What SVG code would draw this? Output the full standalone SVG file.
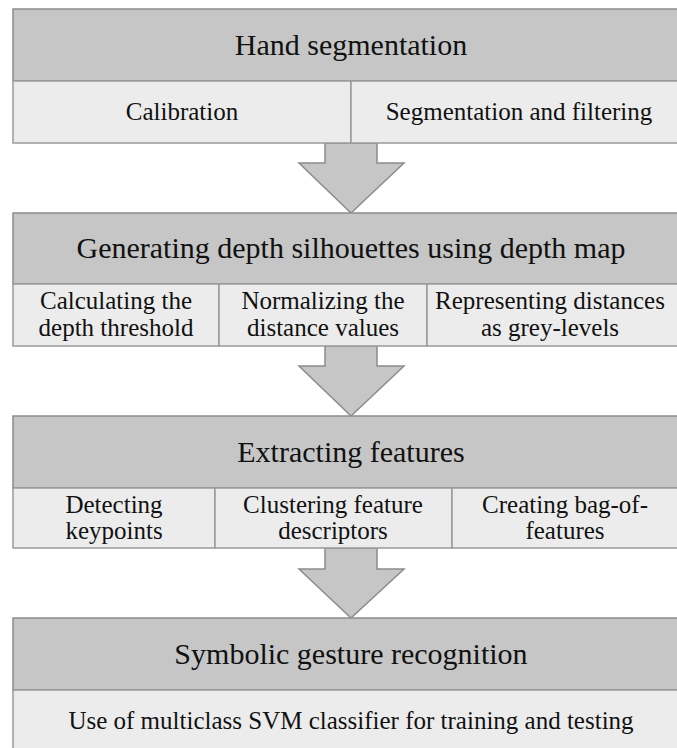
<svg xmlns="http://www.w3.org/2000/svg" width="677" height="748" viewBox="0 0 677 748">
  <defs>
    <style>
      .head { fill: #c6c6c6; stroke: #8c8c8c; stroke-width: 1.5; }
      .sub { fill: #ececec; stroke: #9a9a9a; stroke-width: 1.5; }
      .arrow { fill: #c6c6c6; stroke: #8c8c8c; stroke-width: 1.5; stroke-linejoin: miter; }
    </style>
  </defs>
  <rect width="677" height="748" fill="#ffffff"/>

  <!-- connectors: block arrows between stages -->
  <g id="connectors">
    <polygon class="arrow" points="325,143 377,143 377,163 404,163 351,213 299,163 325,163"/>
    <polygon class="arrow" points="325,346 377,346 377,366 404,366 351,416 299,366 325,366"/>
    <polygon class="arrow" points="325,548 377,548 377,569 404,569 351,618 299,569 325,569"/>
  </g>

  <!-- stage 1 -->
  <g id="hand-segmentation">
    <rect class="head" x="13" y="9" width="680" height="72"/>
    <rect class="sub" x="13" y="81" width="338" height="62"/>
    <rect class="sub" x="351" y="81" width="342" height="62"/>
    <text style="font-family:'Liberation Serif',serif;font-size:30px" fill="#111" text-anchor="middle" x="351" y="55">Hand segmentation</text>
    <text style="font-family:'Liberation Serif',serif;font-size:25px" fill="#111" text-anchor="middle" x="182" y="120">Calibration</text>
    <text style="font-family:'Liberation Serif',serif;font-size:25px" fill="#111" text-anchor="middle" x="519" y="120">Segmentation and filtering</text>
  </g>

  <!-- stage 2 -->
  <g id="depth-silhouettes">
    <rect class="head" x="13" y="213" width="680" height="71"/>
    <rect class="sub" x="13" y="284" width="206" height="62"/>
    <rect class="sub" x="219" y="284" width="208" height="62"/>
    <rect class="sub" x="427" y="284" width="266" height="62"/>
    <text style="font-family:'Liberation Serif',serif;font-size:30px" fill="#111" text-anchor="middle" x="351" y="258">Generating depth silhouettes using depth map</text>
    <text style="font-family:'Liberation Serif',serif;font-size:25px" fill="#111" text-anchor="middle" x="116" y="309">Calculating the</text>
    <text style="font-family:'Liberation Serif',serif;font-size:25px" fill="#111" text-anchor="middle" x="116" y="336">depth threshold</text>
    <text style="font-family:'Liberation Serif',serif;font-size:25px" fill="#111" text-anchor="middle" x="323" y="309">Normalizing the</text>
    <text style="font-family:'Liberation Serif',serif;font-size:25px" fill="#111" text-anchor="middle" x="323" y="336">distance values</text>
    <text style="font-family:'Liberation Serif',serif;font-size:25px" fill="#111" text-anchor="middle" x="550" y="309">Representing distances</text>
    <text style="font-family:'Liberation Serif',serif;font-size:25px" fill="#111" text-anchor="middle" x="550" y="336">as grey-levels</text>
  </g>

  <!-- stage 3 -->
  <g id="extracting-features">
    <rect class="head" x="13" y="416" width="680" height="72"/>
    <rect class="sub" x="13" y="488" width="202" height="60"/>
    <rect class="sub" x="215" y="488" width="237" height="60"/>
    <rect class="sub" x="452" y="488" width="241" height="60"/>
    <text style="font-family:'Liberation Serif',serif;font-size:30px" fill="#111" text-anchor="middle" x="351" y="462">Extracting features</text>
    <text style="font-family:'Liberation Serif',serif;font-size:25px" fill="#111" text-anchor="middle" x="114" y="513">Detecting</text>
    <text style="font-family:'Liberation Serif',serif;font-size:25px" fill="#111" text-anchor="middle" x="114" y="539">keypoints</text>
    <text style="font-family:'Liberation Serif',serif;font-size:25px" fill="#111" text-anchor="middle" x="333" y="513">Clustering feature</text>
    <text style="font-family:'Liberation Serif',serif;font-size:25px" fill="#111" text-anchor="middle" x="333" y="539">descriptors</text>
    <text style="font-family:'Liberation Serif',serif;font-size:25px" fill="#111" text-anchor="middle" x="565" y="513">Creating bag-of-</text>
    <text style="font-family:'Liberation Serif',serif;font-size:25px" fill="#111" text-anchor="middle" x="565" y="539">features</text>
  </g>

  <!-- stage 4 -->
  <g id="gesture-recognition">
    <rect class="head" x="13" y="618" width="680" height="72"/>
    <rect class="sub" x="13" y="690" width="680" height="70"/>
    <text style="font-family:'Liberation Serif',serif;font-size:30px" fill="#111" text-anchor="middle" x="351" y="664">Symbolic gesture recognition</text>
    <text style="font-family:'Liberation Serif',serif;font-size:25px" fill="#111" text-anchor="middle" x="351" y="729">Use of multiclass SVM classifier for training and testing</text>
  </g>
</svg>
